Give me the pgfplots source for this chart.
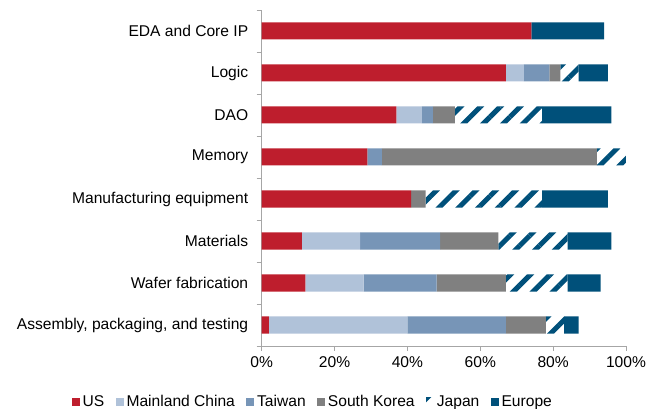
\documentclass[border=0pt]{standalone}
\usepackage{pgfplots}
\pgfplotsset{compat=1.18}
\usetikzlibrary{patterns.meta}
\usepackage{fontspec}
\setmainfont{Liberation Sans}
\definecolor{cUS}{HTML}{BE1E2D}
\definecolor{cMC}{HTML}{B0C2D9}
\definecolor{cTW}{HTML}{7795B7}
\definecolor{cSK}{HTML}{808080}
\definecolor{cEU}{HTML}{00507A}
\definecolor{axgray}{HTML}{A6A6A6}
\newcommand{\lbl}{\fontsize{15.6bp}{18bp}\selectfont}
\begin{document}
\begin{tikzpicture}
\path[use as bounding box] (0,0) rectangle (658bp,409bp);
\begin{axis}[
  at={(261.7bp,63bp)}, anchor=south west,
  scale only axis, width=364.3bp, height=336bp,
  xbar stacked, bar width=17bp,
  xmin=0, xmax=100, ymin=-0.5, ymax=7.5,
  axis x line*=bottom, axis y line*=left,
  axis line style={axgray, line width=0.8pt},
  xtick={0,20,...,100},
  xticklabels={0\%,20\%,40\%,60\%,80\%,100\%},
  ytick={0,...,7},
  yticklabels={{Assembly, packaging, and testing},{Wafer fabrication},Materials,{Manufacturing equipment},{Memory },DAO,Logic,{EDA and Core IP}},
  minor ytick={-0.5,0.5,...,7.5},
  tick align=outside, major tick length=5bp, minor tick length=5bp,
  major x tick style={axgray, line width=0.8pt},
  major y tick style={draw=none},
  minor y tick style={axgray, line width=0.8pt},
  tick label style={font=\lbl, text=black},
  yticklabel style={xshift=-5bp},
  xticklabel style={yshift=-2bp},
  legend style={at={(0.142,-0.166)}, anchor=center, draw=none, fill=none,
    font=\lbl, legend columns=-1, inner sep=0pt,
    nodes={inner xsep=3bp},
    /tikz/every even column/.append style={column sep=8.5bp}},
  legend image code/.code={\draw[#1, draw=none] (0bp,-3.9bp) rectangle (7.7bp,3.9bp);},
  every axis plot/.append style={draw=none},
]
\addplot[fill=cUS] coordinates {(2,0) (12,1) (11,2) (41,3) (29,4) (37,5) (67,6) (74,7)};
\addplot[fill=cMC] coordinates {(38,0) (16,1) (16,2) (0,3) (0,4) (7,5) (5,6) (0,7)};
\addplot[fill=cTW] coordinates {(27,0) (20,1) (22,2) (0,3) (4,4) (3,5) (7,6) (0,7)};
\addplot[fill=cSK] coordinates {(11,0) (19,1) (16,2) (4,3) (59,4) (6,5) (3,6) (0,7)};
\addplot[pattern={Lines[angle=45,distance=14bp,line width=5bp]}, pattern color=cEU] coordinates {(5,0) (17,1) (19,2) (32,3) (8,4) (24,5) (5,6) (0,7)};
\addplot[fill=cEU] coordinates {(4,0) (9,1) (12,2) (18,3) (0,4) (19,5) (8,6) (20,7)};
\legend{US,Mainland China,Taiwan,South Korea,Japan,Europe}
\end{axis}
\end{tikzpicture}
\end{document}
